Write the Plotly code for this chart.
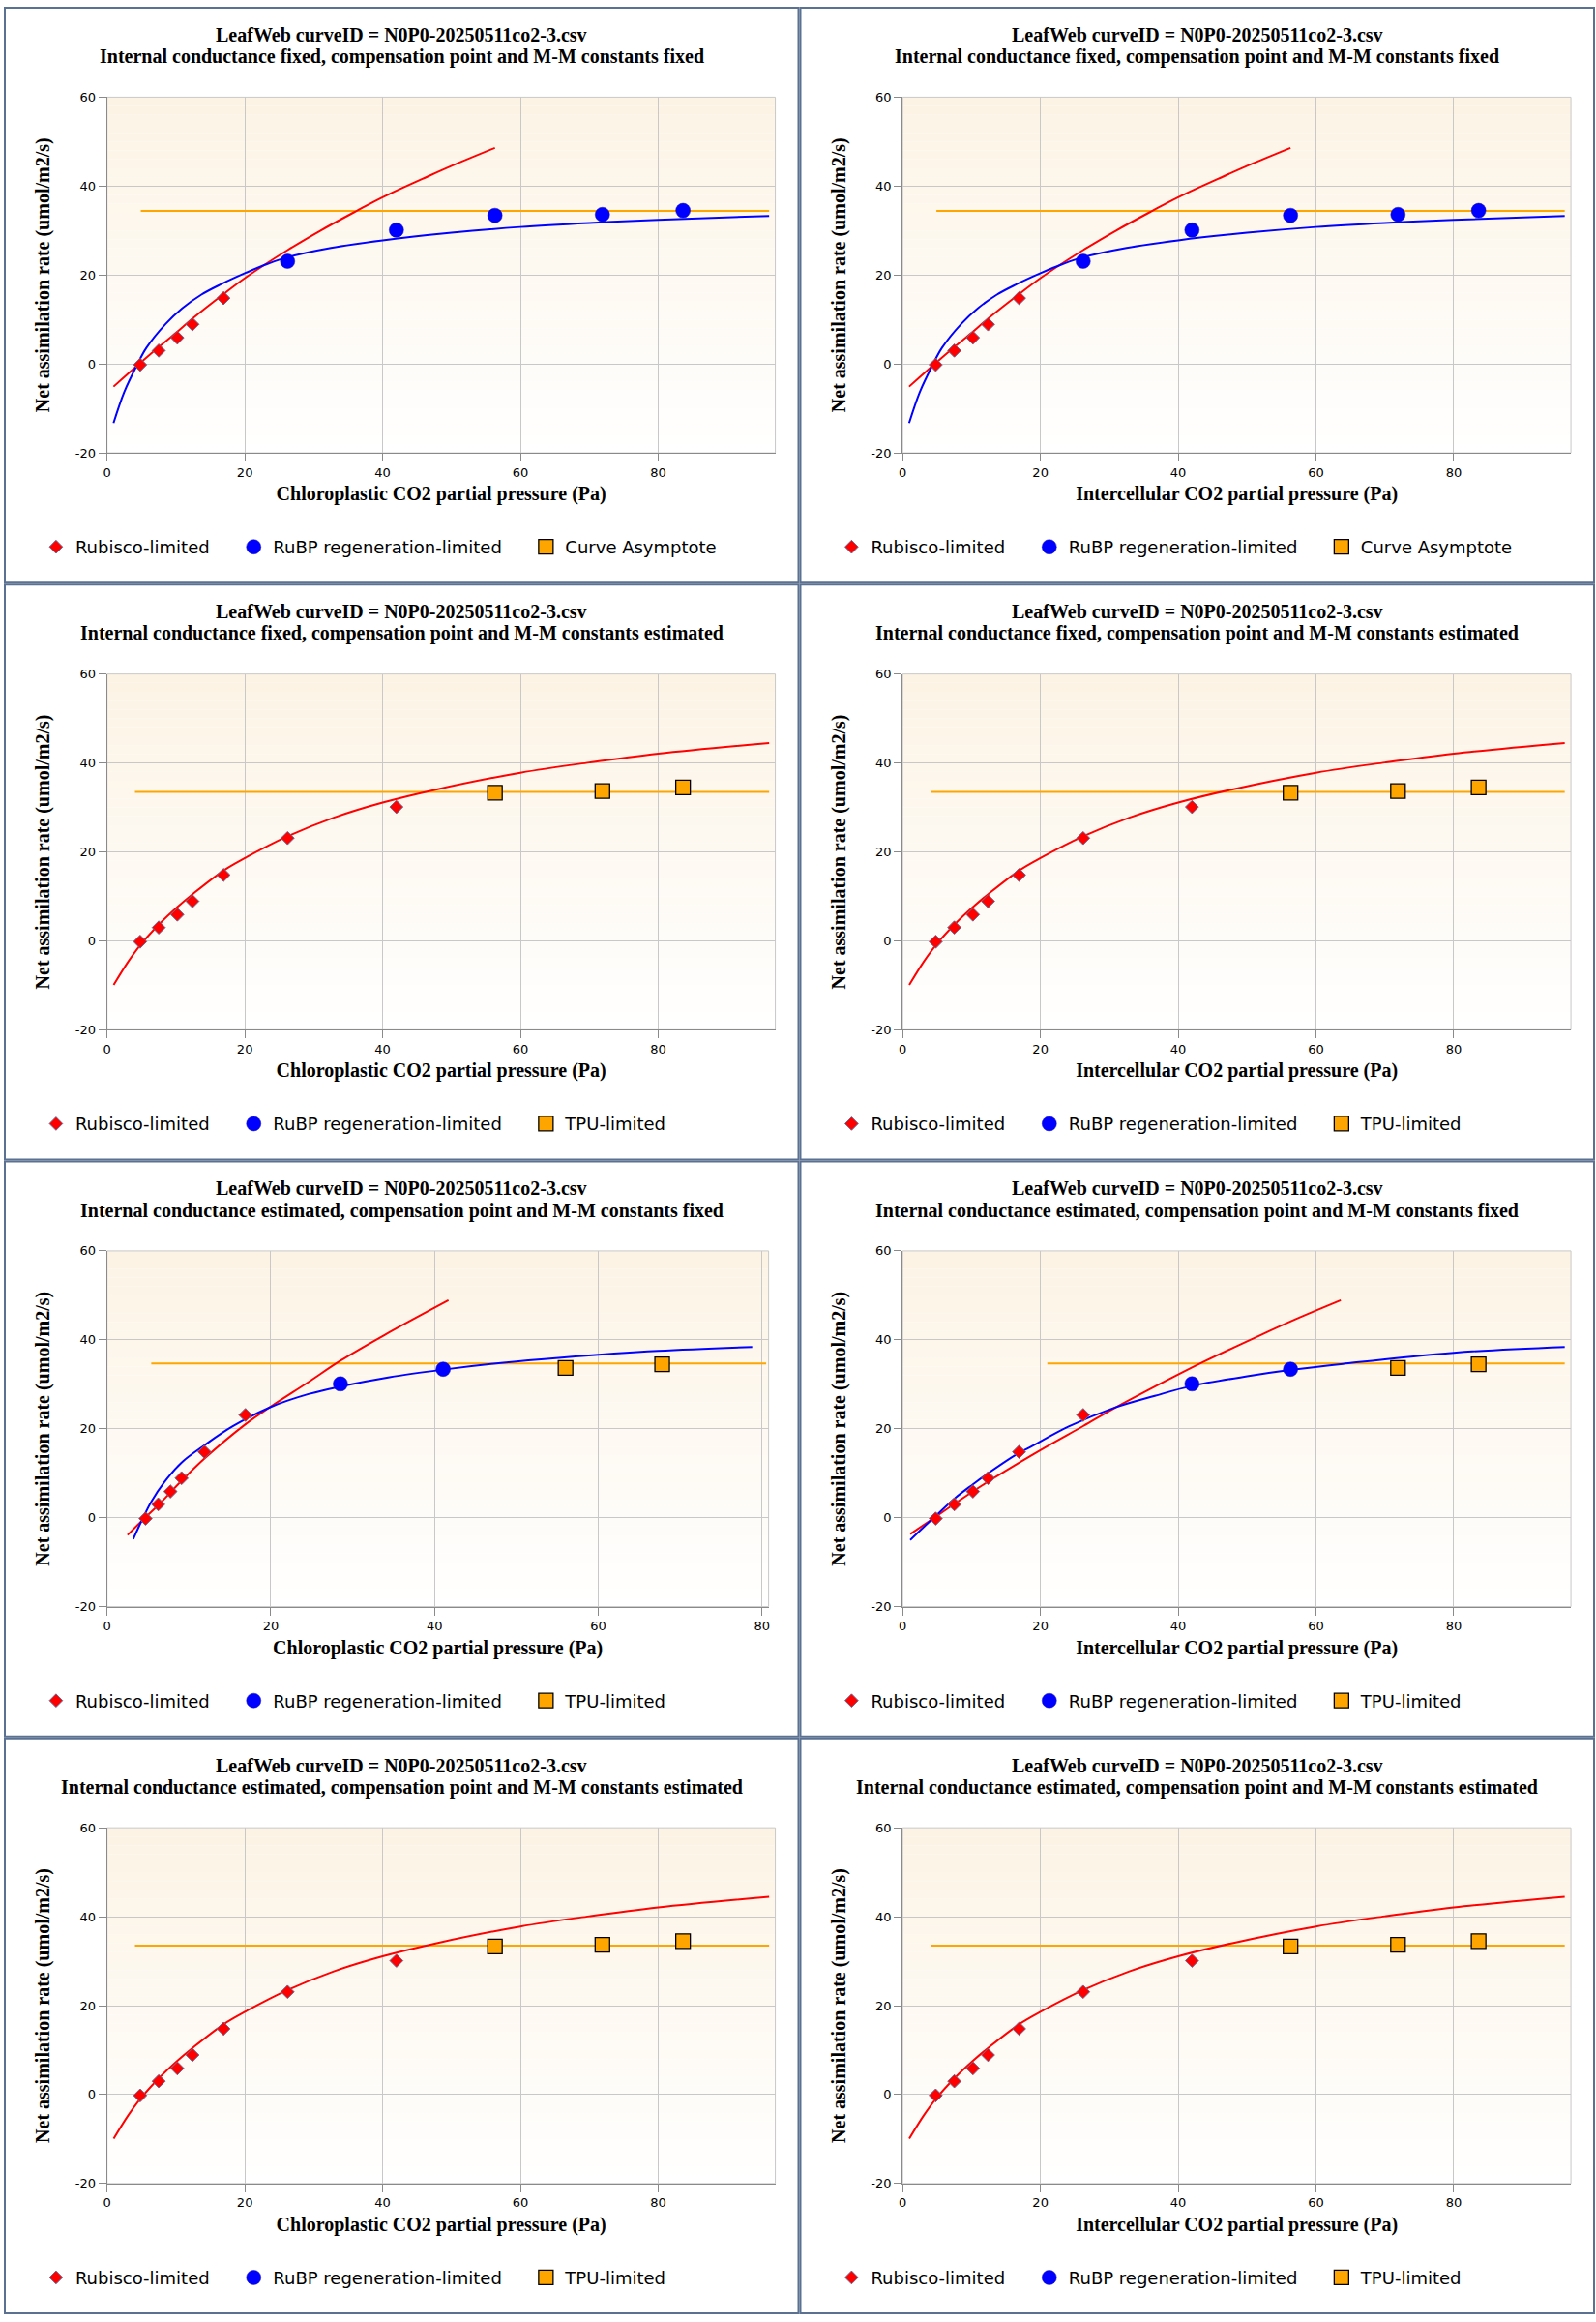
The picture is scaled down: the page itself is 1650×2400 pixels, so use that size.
import plotly.graph_objects as go

# ---------------- text ----------------
title_top = "LeafWeb curveID = N0P0-20250511co2-3.csv"
subtitles = [
    "Internal conductance fixed, compensation point and M-M constants fixed",
    "Internal conductance fixed, compensation point and M-M constants estimated",
    "Internal conductance estimated, compensation point and M-M constants fixed",
    "Internal conductance estimated, compensation point and M-M constants estimated",
]
x_titles = ["Chloroplastic CO2 partial pressure (Pa)", "Intercellular CO2 partial pressure (Pa)"]
y_title = "Net assimilation rate (umol/m2/s)"
name_rubisco = "Rubisco-limited"
name_rubp = "RuBP regeneration-limited"
name_asym = "Curve Asymptote"
name_tpu = "TPU-limited"
x_tick_vals = [0, 20, 40, 60, 80]
x_tick_text = ["0", "20", "40", "60", "80"]
y_tick_vals = [-20, 0, 20, 40, 60]
y_tick_text = ["-20", "0", "20", "40", "60"]
y_range = [-20, 60]
x_range_wide = [0, 97]
x_range_narrow = [0, 80.8]

# ---------------- data: row 1 (both panels) ----------------
a_rub_x = [4.8, 7.5, 10.2, 12.4, 16.9]
a_rub_y = [-0.2, 3.0, 5.9, 8.9, 14.8]
a_rubp_x = [26.2, 42.0, 56.3, 71.9, 83.6]
a_rubp_y = [23.1, 30.1, 33.4, 33.6, 34.5]
a_asym_x = [4.9, 96.1]
a_asym_y = [34.4, 34.4]
a_red_x = [0.94, 4.8, 7.5, 10.0, 12.4, 16.9, 20.0, 26.2, 31.0, 36.2, 40.0, 46.6, 51.0, 56.3]
a_red_y = [-5.1, 0.2, 3.8, 7.0, 10.2, 15.7, 19.3, 25.6, 30.0, 34.4, 37.5, 42.2, 45.2, 48.6]
a_blue_x = [0.94, 2.5, 4.3, 5.7, 8.5, 10.9, 13.7, 16.5, 20.0, 23.3, 26.2, 32.5, 40.0, 50.0, 60.0, 70.0, 80.0, 96.1]
a_blue_y = [-13.3, -6.3, -0.4, 3.6, 9.0, 12.5, 15.6, 17.9, 20.4, 22.5, 24.0, 26.1, 27.8, 29.5, 30.8, 31.7, 32.4, 33.3]

# ---------------- data: rows 2 and 4 ----------------
b_rub_x = [4.8, 7.5, 10.2, 12.4, 16.9, 26.2, 42.0]
b_rub_y = [-0.2, 3.0, 5.9, 8.9, 14.8, 23.1, 30.1]
b_tpu_x = [56.3, 71.9, 83.6]
b_tpu_y = [33.3, 33.7, 34.5]
b_tpu_line_x = [4.05, 96.1]
b_tpu_line_y = [33.5, 33.5]
b_red_x = [0.96, 3.1, 4.8, 7.6, 10.2, 12.5, 16.9, 20.0, 26.2, 32.9, 40.0, 47.7, 60.0, 70.0, 80.0, 96.1]
b_red_y = [-9.9, -4.6, -1.0, 3.8, 7.6, 10.6, 15.8, 18.6, 23.5, 27.7, 31.1, 34.0, 37.8, 40.1, 42.1, 44.5]

# ---------------- data: row 3 left (chloroplastic) ----------------
c_rub_x = [4.7, 6.25, 7.74, 9.1, 11.9, 16.9]
c_rub_y = [-0.2, 3.0, 5.9, 8.9, 14.8, 23.1]
c_rubp_x = [28.5, 41.05]
c_rubp_y = [30.1, 33.4]
c_tpu_x = [56.0, 67.8]
c_tpu_y = [33.7, 34.5]
c_tpu_line_x = [5.4, 80.5]
c_tpu_line_y = [34.7, 34.7]
c_red_x = [2.5, 4.7, 6.25, 9.1, 11.9, 16.9, 20.0, 24.6, 28.5, 33.9, 41.7]
c_red_y = [-3.9, 0.1, 2.8, 8.3, 13.3, 21.0, 25.0, 30.5, 35.3, 41.1, 48.9]
c_blue_x = [3.2, 4.3, 5.4, 7.0, 9.1, 11.9, 15.3, 20.0, 24.6, 28.5, 34.5, 41.05, 48.1, 55.5, 67.3, 78.8]
c_blue_y = [-4.8, -0.4, 3.6, 8.0, 12.4, 16.3, 20.5, 24.9, 27.8, 29.5, 31.6, 33.3, 34.8, 36.0, 37.5, 38.4]

# ---------------- data: row 3 right (intercellular) ----------------
d_rub_x = [4.8, 7.5, 10.2, 12.4, 16.9, 26.2]
d_rub_y = [-0.2, 3.0, 5.9, 8.9, 14.8, 23.1]
d_rubp_x = [42.0, 56.3]
d_rubp_y = [30.1, 33.4]
d_tpu_x = [71.9, 83.6]
d_tpu_y = [33.7, 34.5]
d_tpu_line_x = [21.0, 96.1]
d_tpu_line_y = [34.7, 34.7]
d_red_x = [1.1, 4.8, 7.6, 12.5, 20.0, 26.2, 30.7, 40.0, 44.0, 51.3, 57.0, 63.6]
d_red_y = [-3.7, 0.2, 3.2, 8.2, 15.2, 20.6, 24.6, 32.2, 35.3, 40.6, 44.6, 48.9]
d_blue_x = [1.1, 4.8, 7.6, 10.2, 12.5, 16.9, 18.2, 24.1, 30.7, 36.6, 41.9, 50.0, 56.2, 63.9, 80.0, 96.1]
d_blue_y = [-5.0, 0.4, 4.4, 7.5, 10.1, 14.6, 15.6, 20.5, 24.7, 27.4, 29.6, 31.8, 33.2, 34.6, 37.1, 38.4]

# ---------------- styles ----------------
RED = "#ff0000"
BLUE = "#0000ff"
ORANGE = "#ffa500"
FRAME = "#5b7191"
GRID = "#c8c8c8"
AXIS = "#8a8a8a"
TITLE_FONT = dict(family="Liberation Serif", size=20, color="black", weight="bold")
TICK_FONT = dict(family="DejaVu Sans", size=13, color="black")
LEG_FONT = dict(family="DejaVu Sans", size=18, color="black")
FIG_W, FIG_H = 1650, 2400
PW, PH = 825, 600

sets = {
    "A": dict(rub=(a_rub_x, a_rub_y), rubp=(a_rubp_x, a_rubp_y), tpu=None,
              hline=(a_asym_x, a_asym_y), red=(a_red_x, a_red_y), blue=(a_blue_x, a_blue_y),
              third=name_asym, xr=x_range_wide, right=800),
    "B": dict(rub=(b_rub_x, b_rub_y), rubp=None, tpu=(b_tpu_x, b_tpu_y),
              hline=(b_tpu_line_x, b_tpu_line_y), red=(b_red_x, b_red_y), blue=None,
              third=name_tpu, xr=x_range_wide, right=800),
    "C": dict(rub=(c_rub_x, c_rub_y), rubp=(c_rubp_x, c_rubp_y), tpu=(c_tpu_x, c_tpu_y),
              hline=(c_tpu_line_x, c_tpu_line_y), red=(c_red_x, c_red_y), blue=(c_blue_x, c_blue_y),
              third=name_tpu, xr=x_range_narrow, right=793),
    "D": dict(rub=(d_rub_x, d_rub_y), rubp=(d_rubp_x, d_rubp_y), tpu=(d_tpu_x, d_tpu_y),
              hline=(d_tpu_line_x, d_tpu_line_y), red=(d_red_x, d_red_y), blue=(d_blue_x, d_blue_y),
              third=name_tpu, xr=x_range_wide, right=800),
}

# (row, col, dataset, x-title index, subtitle index)
panels = [
    (0, 0, "A", 0, 0), (0, 1, "A", 1, 0),
    (1, 0, "B", 0, 1), (1, 1, "B", 1, 1),
    (2, 0, "C", 0, 2), (2, 1, "D", 1, 2),
    (3, 0, "B", 0, 3), (3, 1, "B", 1, 3),
]

fig = go.Figure()
layout = dict(width=FIG_W, height=FIG_H, autosize=False,
              margin=dict(l=0, r=0, t=0, b=0),
              paper_bgcolor="white", plot_bgcolor="white",
              showlegend=True, shapes=[], annotations=[])

TOP_RGB = (252, 243, 228)
NB = 40
leg_count = 0

def px_x(v):
    return v / FIG_W

def px_y(v):
    return 1 - v / FIG_H

for i, (r, c, key, xt, st) in enumerate(panels, start=1):
    ds = sets[key]
    X0, Y0 = c * PW, r * PH
    xa = "x" if i == 1 else f"x{i}"
    ya = "y" if i == 1 else f"y{i}"
    xk = "xaxis" if i == 1 else f"xaxis{i}"
    yk = "yaxis" if i == 1 else f"yaxis{i}"

    layout[xk] = dict(
        domain=[px_x(X0 + 107), px_x(X0 + ds["right"])], anchor=ya, range=ds["xr"],
        tickvals=x_tick_vals, ticktext=x_tick_text, ticks="outside", ticklen=8, tickcolor=AXIS,
        showline=True, linecolor=AXIS, linewidth=1, showgrid=True, gridcolor=GRID,
        gridwidth=1, zeroline=False, tickfont=TICK_FONT,
        title=dict(text=x_titles[xt], font=TITLE_FONT, standoff=8),
    )
    layout[yk] = dict(
        domain=[px_y(Y0 + 464), px_y(Y0 + 94)], anchor=xa, range=y_range,
        tickvals=y_tick_vals, ticktext=y_tick_text, ticks="outside", ticklen=8, tickcolor=AXIS,
        showline=True, linecolor=AXIS, linewidth=1, showgrid=True, gridcolor=GRID,
        gridwidth=1, zeroline=False, tickfont=TICK_FONT,
        title=dict(text=y_title, font=TITLE_FONT, standoff=20),
    )

    # gradient background of plot area
    for b in range(NB):
        t = (b + 0.5) / NB
        col = tuple(round(255 + (tc - 255) * t) for tc in TOP_RGB)
        layout["shapes"].append(dict(
            type="rect", xref=f"{xa} domain", yref=f"{ya} domain",
            x0=0, x1=1, y0=b / NB, y1=(b + 1) / NB, layer="below",
            line=dict(width=0), fillcolor=f"rgb{col}"))
    # light frame around plot area (top / right)
    layout["shapes"].append(dict(
        type="rect", xref=f"{xa} domain", yref=f"{ya} domain",
        x0=0, x1=1, y0=0, y1=1, layer="below", line=dict(color=GRID, width=1)))
    # panel frame
    layout["shapes"].append(dict(
        type="rect", xref="paper", yref="paper",
        x0=px_x(X0 + 1), x1=px_x(X0 + PW - 1), y0=px_y(Y0 + PH - 1), y1=px_y(Y0 + 1),
        line=dict(color=FRAME, width=2), layer="above"))

    # titles
    layout["annotations"].append(dict(
        text=title_top, xref="paper", yref="paper", x=px_x(X0 + PW / 2), y=px_y(Y0 + 29),
        xanchor="center", yanchor="middle", showarrow=False, font=TITLE_FONT))
    layout["annotations"].append(dict(
        text=subtitles[st], xref="paper", yref="paper", x=px_x(X0 + PW / 2), y=px_y(Y0 + 52),
        xanchor="center", yanchor="middle", showarrow=False, font=TITLE_FONT))

    # traces
    hx, hy = ds["hline"]
    fig.add_trace(go.Scatter(x=hx, y=hy, mode="lines", line=dict(color=ORANGE, width=2),
                             showlegend=False, hoverinfo="skip", xaxis=xa, yaxis=ya))
    rx, ry = ds["red"]
    fig.add_trace(go.Scatter(x=rx, y=ry, mode="lines", line=dict(color=RED, width=2, shape="spline"),
                             showlegend=False, hoverinfo="skip", xaxis=xa, yaxis=ya))
    if ds["blue"] is not None:
        bx, by = ds["blue"]
        fig.add_trace(go.Scatter(x=bx, y=by, mode="lines", line=dict(color=BLUE, width=2, shape="spline"),
                                 showlegend=False, hoverinfo="skip", xaxis=xa, yaxis=ya))

    legs = []
    for k in range(3):
        leg_count += 1
        lid = "legend" if leg_count == 1 else f"legend{leg_count}"
        legs.append(lid)
    sym_centers = [54, 259, 562]
    for lid, sc in zip(legs, sym_centers):
        layout[lid] = dict(orientation="h", x=px_x(X0 + sc - 20), xanchor="left",
                           y=px_y(Y0 + 562), yanchor="middle", bgcolor="rgba(0,0,0,0)",
                           borderwidth=0, font=LEG_FONT, itemsizing="trace")

    ux, uy = ds["rub"]
    fig.add_trace(go.Scatter(x=ux, y=uy, mode="markers", name=name_rubisco, legend=legs[0],
                             marker=dict(symbol="diamond", size=10.5, color=RED,
                                         line=dict(color="#6a6a90", width=1)),
                             xaxis=xa, yaxis=ya))
    if ds["rubp"] is not None:
        cx, cy = ds["rubp"]
    else:
        cx, cy = [None], [None]
    fig.add_trace(go.Scatter(x=cx, y=cy, mode="markers", name=name_rubp, legend=legs[1],
                             marker=dict(symbol="circle", size=15, color=BLUE,
                                         line=dict(color="#1010c0", width=0.5)),
                             xaxis=xa, yaxis=ya))
    if ds["tpu"] is not None:
        sx, sy = ds["tpu"]
    else:
        sx, sy = [None], [None]
    fig.add_trace(go.Scatter(x=sx, y=sy, mode="markers", name=ds["third"], legend=legs[2],
                             marker=dict(symbol="square", size=15, color=ORANGE,
                                         line=dict(color="black", width=1.3)),
                             xaxis=xa, yaxis=ya))

fig.update_layout(**layout)
fig.write_html("out.html", config={"displayModeBar": False},
               post_script="document.body.style.margin='0px';document.body.style.overflow='hidden';")
